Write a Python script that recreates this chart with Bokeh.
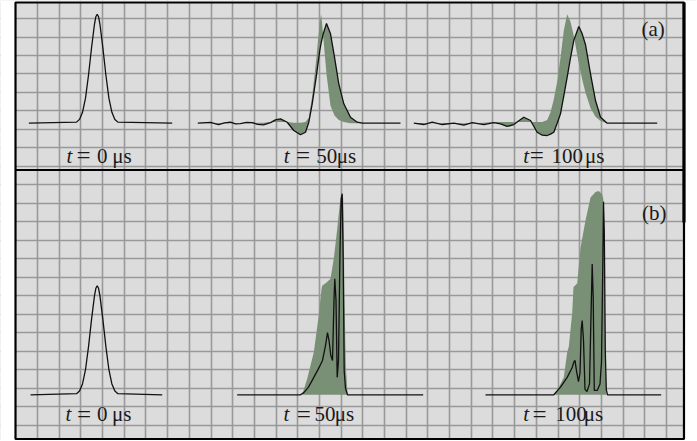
from bokeh.plotting import figure
from bokeh.models import Range1d, FixedTicker, Span
from bokeh.core.properties import value
from bokeh.embed import file_html
from bokeh.resources import INLINE

# ---------------- data (x in grid divisions, y = amplitude, initial peak = 1) ----------------
# panel (a)
a0_x = [-0.40, 1.80, 1.936, 2.075, 2.213, 2.351, 2.490, 2.628, 2.690, 2.752, 2.815, 2.877,
        3.015, 3.154, 3.292, 3.430, 3.568, 3.707, 6.21]
a0_y = [0, 0.01, 0.035, 0.10, 0.23, 0.44, 0.69, 0.91, 0.977, 1.0, 0.977, 0.91,
        0.69, 0.44, 0.23, 0.10, 0.035, 0.01, 0]

a50_x = [7.39, 7.976, 8.345, 8.622, 8.898, 9.129, 9.359, 9.636, 9.899, 10.143, 10.420, 10.742,
         10.973, 11.203, 11.512, 11.817, 12.125, 12.356, 12.508, 12.665, 12.849, 13.015, 13.080,
         13.172, 13.324, 13.509, 13.693, 13.891, 14.122, 14.431, 14.740, 14.984, 16.736]
a50_black = [0, 0.008, -0.012, 0.004, 0.009, -0.006, -0.003, 0.008, 0.006, -0.01, -0.015, 0.006,
             0.03, 0.04, 0.009, -0.067, -0.106, -0.083, 0.009, 0.178, 0.422, 0.667, 0.74,
             0.82, 0.915, 0.82, 0.606, 0.361, 0.178, 0.055, 0.009, 0, 0]
a50_env = [0, 0, 0, 0, 0, 0, 0, 0, 0, 0.005, 0.005, 0.01,
           0.01, 0.01, 0.01, 0.005, 0.005, 0.01, 0.05, 0.25, 0.58, 0.93, 1.0,
           0.80, 0.45, 0.16, 0.07, 0.03, 0.01, 0, 0, 0, 0]

a100_x = [17.349, 17.810, 18.197, 18.658, 19.193, 19.654, 20.041, 20.576, 21.037, 21.346, 21.655,
          21.960, 22.176, 22.421, 22.730, 23.038, 23.269, 23.499, 23.652, 23.804, 23.960, 24.112,
          24.265, 24.421, 24.574, 24.726, 24.956, 25.113, 25.265, 25.496, 25.726, 25.957, 26.266,
          28.571]
a100_black = [0, -0.012, 0.009, -0.012, 0, -0.018, 0.006, -0.012, 0.006, -0.006, -0.03,
              -0.012, 0.02, 0.055, 0.025, -0.083, -0.11, -0.113, -0.1, -0.083, 0.0, 0.086,
              0.25, 0.422, 0.6, 0.76, 0.887, 0.82, 0.72, 0.453, 0.208, 0.055, 0, 0]
a100_env = [0, 0, 0, 0, 0, 0, 0, 0.005, 0.01, 0.01, 0.01,
            0.01, 0.01, 0.01, 0.01, 0.01, 0.01, 0.03, 0.1, 0.22, 0.38, 0.6,
            0.85, 1.0, 0.93, 0.8, 0.55, 0.4, 0.28, 0.14, 0.06, 0.02, 0, 0]

# panel (b)
b0_x = [-0.32, 1.80, 1.936, 2.075, 2.213, 2.351, 2.490, 2.628, 2.690, 2.752, 2.815, 2.877,
        3.015, 3.154, 3.292, 3.430, 3.568, 3.707, 5.75]
b0_y = [0, 0.01, 0.035, 0.10, 0.23, 0.44, 0.69, 0.91, 0.977, 1.0, 0.977, 0.91,
        0.69, 0.44, 0.23, 0.10, 0.035, 0.01, 0]

b50_x = [9.207, 12.125, 12.278, 12.494, 12.739, 12.955, 13.140, 13.278, 13.370, 13.439, 13.522,
         13.601, 13.670, 13.707, 13.762, 13.818, 13.877, 13.947, 14.002, 14.048, 14.094, 14.140,
         14.200, 14.292, 17.782]
b50_black = [0, 0, 0.02, 0.07, 0.16, 0.24, 0.315, 0.45, 0.57, 0.50, 0.36,
             0.315, 0.87, 1.064, 0.87, 0.16, 0.315, 1.32, 1.80, 1.845, 1.23, 0.22,
             0.06, 0, 0]
b50_env_x = [12.204, 12.434, 12.739, 12.969, 13.094, 13.126, 13.324, 13.509, 13.661, 13.818,
             13.937, 14.030, 14.094, 14.122, 14.154, 14.214, 14.292, 14.338]
b50_env = [0, 0.147, 0.39, 0.73, 0.97, 1.0, 1.03, 1.064, 1.25, 1.52,
           1.75, 1.845, 1.80, 1.49, 0.88, 0.27, 0.01, 0]

b100_x = [20.655, 23.804, 24.112, 24.421, 24.652, 24.726, 24.781, 24.850, 24.942, 25.012,
          25.067, 25.113, 25.173, 25.242, 25.334, 25.450, 25.528, 25.574, 25.620, 25.671,
          25.804, 25.934, 26.003, 26.063, 26.095, 26.132, 26.178, 26.224, 26.280, 26.418, 28.755]
b100_black = [0, 0, 0.07, 0.16, 0.25, 0.30, 0.315, 0.22, 0.12, 0.2,
              0.6, 0.68, 0.5, 0.05, 0.03, 0.1, 0.8, 1.20, 0.9, 0.04,
              0.04, 0.1, 0.3, 1.2, 1.77, 1.5, 0.4, 0.05, 0, 0, 0]
b100_env_x = [23.804, 23.928, 24.112, 24.265, 24.421, 24.495, 24.652, 24.712, 24.883, 25.035,
              25.265, 25.496, 25.726, 25.878, 26.035, 26.081, 26.108, 26.141, 26.187, 26.233]
b100_env = [0, 0.03, 0.1, 0.16, 0.39, 0.44, 0.75, 0.99, 1.02, 1.35,
            1.60, 1.81, 1.86, 1.87, 1.84, 1.80, 1.75, 1.2, 0.3, 0.02]

# label pieces: "t", "=", time value, unit
label_t = ["t"] * 6
label_eq = ["="] * 6
label_num = ["0", "50", "100", "0", "50", "100"]
label_unit = ["μs"] * 6
panel_tags = ["(a)", "(b)"]

# ---------------- layout / style ----------------
W, H = 696, 440
X0, X1 = -1.014, 29.806         # frame extent in grid columns
Y0, Y1 = -0.730, 22.865         # frame extent in grid rows
XR0, XR1 = -1.706, 30.383       # visible range (canvas) in grid columns
YR0, YR1 = -0.811, 22.973       # visible range (canvas) in grid rows
BASE_A, BASE_B = 16.34, 1.66    # baselines (grid rows)
AMP = 5.892                     # grid rows per unit amplitude
SEP_Y = 13.81
GREEN = "#7a9076"
INK = "#111111"
TXT = "#1a1a1a"
SERIF = value("Liberation Serif")

p = figure(width=W, height=H, output_backend="svg", toolbar_location=None,
           x_range=Range1d(XR0, XR1), y_range=Range1d(YR0, YR1),
           x_axis_location=None, y_axis_location=None,
           min_border=0, background_fill_color="#dcdcdc", border_fill_color="white",
           outline_line_color=None)

p.xgrid.ticker = FixedTicker(ticks=list(range(0, 30)))
p.ygrid.ticker = FixedTicker(ticks=list(range(0, 23)))
for g in (p.xgrid, p.ygrid):
    g.grid_line_color = "#999999"
    g.grid_line_width = 1.6

p.extra_y_ranges = {
    "a": Range1d((YR0 - BASE_A) / AMP, (YR1 - BASE_A) / AMP),
    "b": Range1d((YR0 - BASE_B) / AMP, (YR1 - BASE_B) / AMP),
}

# white outside the frame
p.quad(left=[XR0, X1, XR0, XR0], right=[X0, XR1, XR1, XR1],
       bottom=[YR0, YR0, Y1, YR0], top=[YR1, YR1, YR1, Y0],
       fill_color="white", line_color=None)

# panel (a)
p.varea(x=a50_x, y1=a50_black, y2=a50_env, y_range_name="a", fill_color=GREEN)
p.varea(x=a100_x, y1=a100_black, y2=a100_env, y_range_name="a", fill_color=GREEN)
p.line(a0_x, a0_y, y_range_name="a", line_color=INK, line_width=1.3)
p.line(a50_x, a50_black, y_range_name="a", line_color=INK, line_width=1.3)
p.line(a100_x, a100_black, y_range_name="a", line_color=INK, line_width=1.3)

# panel (b)
p.varea(x=b50_env_x, y1=0, y2=b50_env, y_range_name="b", fill_color=GREEN)
p.varea(x=b100_env_x, y1=0, y2=b100_env, y_range_name="b", fill_color=GREEN)
p.line(b0_x, b0_y, y_range_name="b", line_color=INK, line_width=1.3)
p.line(b50_x, b50_black, y_range_name="b", line_color=INK, line_width=1.3)
p.line(b100_x, b100_black, y_range_name="b", line_color=INK, line_width=1.3)

# frame and separator
p.quad(left=[X0], right=[X1], bottom=[Y0], top=[Y1], fill_color=None,
       line_color="black", line_width=2.2)
p.segment(x0=[X0], x1=[X1], y0=[SEP_Y], y1=[SEP_Y], line_color="black", line_width=2.2)
p.segment(x0=[X1], x1=[X1], y0=[10.97], y1=[Y1], line_color="black", line_width=3.2)

# labels
lab_y = [14.59, 14.59, 14.59, 0.62, 0.62, 0.62]
t_x = [1.337, 11.356, 22.393, 1.291, 11.341, 22.393]
eq_x = [1.80, 11.92, 22.70, 1.82, 11.95, 22.82]
num_x = [2.74, 12.85, 23.70, 2.74, 12.77, 23.87]
unit_x = [3.45, 13.80, 25.24, 3.44, 13.70, 25.19]
common = dict(text_font=SERIF, text_baseline="middle", text_align="left", text_color=TXT)
p.text(x=t_x, y=lab_y, text=label_t, text_font_style="italic", text_font_size="21px", **common)
p.text(x=eq_x, y=lab_y, text=label_eq, text_font_size="25px", **common)
p.text(x=num_x, y=lab_y, text=label_num, text_font_size="21px", **common)
p.text(x=unit_x, y=lab_y, text=label_unit, text_font_size="21px", **common)
p.text(x=[28.38, 28.43], y=[21.41, 11.46], text=panel_tags, text_font=SERIF,
       text_font_size="21px", text_baseline="middle", text_align="center", text_color=TXT)

open("out.html", "w").write(file_html(p, INLINE))
